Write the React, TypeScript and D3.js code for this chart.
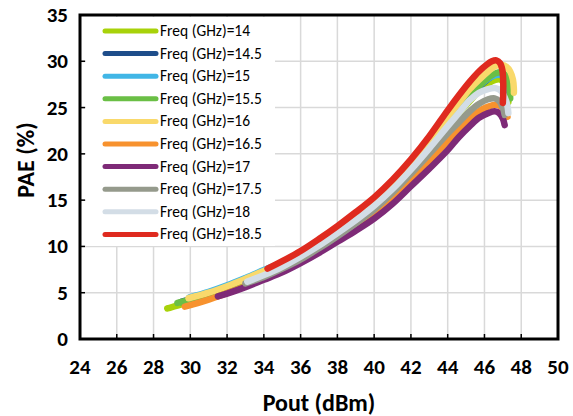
import React from 'react';
import * as d3 from 'd3';

const xTicks = [24, 26, 28, 30, 32, 34, 36, 38, 40, 42, 44, 46, 48, 50];
const yTicks = [0, 5, 10, 15, 20, 25, 30, 35];

const seriesNames = [
  'Freq (GHz)=14', 'Freq (GHz)=14.5', 'Freq (GHz)=15', 'Freq (GHz)=15.5', 'Freq (GHz)=16',
  'Freq (GHz)=16.5', 'Freq (GHz)=17', 'Freq (GHz)=17.5', 'Freq (GHz)=18', 'Freq (GHz)=18.5',
];
const seriesColors = [
  '#a8d20a', '#1e4d8a', '#41b6e6', '#6abf45', '#f9d96b',
  '#f7922e', '#7e2a77', '#959a8c', '#d3dde6', '#df2a1f',
];

// [Pout (dBm), PAE (%)]
const f14: [number, number][] = [
  [28.75, 3.3], [29, 3.45], [30, 4.0], [31, 4.65], [32, 5.35], [33, 6.1], [34, 6.95], [35, 7.85],
  [36, 8.85], [37, 10.0], [38, 11.4], [39, 12.8], [40, 14.4], [41, 16.2], [42, 18.3], [43, 20.6],
  [44, 23.0], [44.6, 24.4], [45.2, 25.7], [45.7, 26.8], [46.2, 27.6], [46.6, 28.0], [46.9, 28.0],
  [47.1, 27.4], [47.25, 26.5], [47.3, 25.6],
];
const f145: [number, number][] = [
  [29.5, 4.0], [30, 4.3], [31, 4.9], [32, 5.55], [33, 6.35], [34, 7.15], [35, 8.05], [36, 9.05],
  [37, 10.25], [38, 11.6], [39, 13.0], [40, 14.6], [41, 16.4], [42, 18.5], [43, 20.8], [44, 23.3],
  [44.6, 24.7], [45.2, 26.1], [45.7, 27.2], [46.2, 28.1], [46.6, 28.6], [46.9, 28.7], [47.15, 28.2],
  [47.3, 27.2], [47.35, 26.2],
];
const f15: [number, number][] = [
  [29.95, 4.5], [31, 5.1], [32, 5.8], [33, 6.6], [34, 7.45], [35, 8.3], [36, 9.3], [37, 10.5],
  [38, 11.8], [39, 13.2], [40, 14.8], [41, 16.6], [42, 18.7], [43, 21.0], [44, 23.5], [44.6, 24.9],
  [45.2, 26.3], [45.7, 27.3], [46.2, 28.1], [46.6, 28.5], [46.9, 28.5], [47.1, 28.0], [47.25, 27.0],
  [47.3, 26.0],
];
const f155: [number, number][] = [
  [29.3, 3.9], [30, 4.25], [31, 4.85], [32, 5.5], [33, 6.3], [34, 7.1], [35, 8.0], [36, 9.0],
  [37, 10.2], [38, 11.6], [39, 13.0], [40, 14.6], [41, 16.4], [42, 18.6], [43, 20.9], [44, 23.4],
  [44.6, 24.8], [45.2, 26.2], [45.7, 27.3], [46.2, 28.2], [46.6, 28.7], [46.95, 28.8], [47.2, 28.3],
  [47.35, 27.3], [47.4, 26.0],
];
const f16: [number, number][] = [
  [29.9, 4.4], [31, 5.0], [32, 5.7], [33, 6.5], [34, 7.35], [35, 8.2], [36, 9.3], [37, 10.6],
  [38, 11.95], [39, 13.4], [40, 15.0], [41, 16.85], [42, 19.0], [43, 21.4], [44, 24.0], [44.6, 25.5],
  [45.2, 27.0], [45.7, 28.0], [46.2, 28.9], [46.6, 29.5], [46.95, 29.6], [47.2, 29.4], [47.4, 28.9],
  [47.55, 28.0], [47.6, 27.0], [47.6, 26.6],
];
const f165: [number, number][] = [
  [29.7, 3.5], [30, 3.65], [31, 4.25], [32, 4.95], [33, 5.7], [34, 6.5], [35, 7.35], [36, 8.35],
  [37, 9.45], [38, 10.7], [39, 12.0], [40, 13.4], [41, 15.1], [42, 17.1], [43, 19.2], [44, 21.4],
  [44.6, 22.6], [45.2, 23.8], [45.7, 24.6], [46.2, 25.1], [46.6, 25.3], [46.9, 25.1], [47.1, 24.6],
  [47.25, 24.0],
];
const f17: [number, number][] = [
  [31.5, 4.6], [32, 4.9], [33, 5.6], [34, 6.4], [35, 7.2], [36, 8.2], [37, 9.3], [38, 10.5],
  [39, 11.7], [40, 13.0], [41, 14.6], [42, 16.5], [43, 18.4], [44, 20.4], [44.6, 21.8], [45.2, 23.0],
  [45.7, 23.9], [46.2, 24.4], [46.55, 24.6], [46.8, 24.4], [47.0, 23.8], [47.1, 23.1],
];
const f175: [number, number][] = [
  [33.0, 6.0], [34, 6.7], [35, 7.6], [36, 8.6], [37, 9.8], [38, 11.1], [39, 12.5], [40, 14.0],
  [41, 15.8], [42, 17.85], [43, 20.0], [44, 22.2], [44.6, 23.4], [45.2, 24.6], [45.7, 25.4],
  [46.2, 25.9], [46.55, 26.0], [46.8, 25.7], [47.0, 25.0], [47.1, 24.2],
];
const f18: [number, number][] = [
  [33.1, 6.2], [34, 6.9], [35, 7.8], [36, 8.9], [37, 10.1], [38, 11.45], [39, 12.85], [40, 14.4],
  [41, 16.2], [42, 18.3], [43, 20.6], [44, 23.0], [44.6, 24.4], [45.2, 25.8], [45.7, 26.6],
  [46.2, 27.0], [46.6, 27.1], [46.9, 26.8], [47.1, 26.1], [47.25, 25.2], [47.3, 24.4],
];
const f185: [number, number][] = [
  [34.2, 7.6], [35, 8.4], [36, 9.5], [37, 10.8], [38, 12.2], [39, 13.7], [40, 15.3], [41, 17.2],
  [42, 19.4], [43, 21.9], [44, 24.7], [44.6, 26.3], [45.2, 27.8], [45.7, 28.9], [46.1, 29.6],
  [46.4, 30.0], [46.65, 30.1], [46.85, 29.8], [46.98, 29.0], [47.02, 27.8], [47.02, 26.5], [47.0, 25.5],
];

const seriesData = [f14, f145, f15, f155, f16, f165, f17, f175, f18, f185];

const FONT = "Carlito, Calibri, 'Liberation Sans', Arial, sans-serif";

export default function App() {
  const W = 573;
  const H = 416;
  const left = 80, right = 558, top = 15, bottom = 339;
  const x = d3.scaleLinear().domain([24, 50]).range([left, right]);
  const y = d3.scaleLinear().domain([0, 35]).range([bottom, top]);
  const line = d3
    .line<[number, number]>()
    .x((d) => x(d[0]))
    .y((d) => y(d[1]))
    .curve(d3.curveCatmullRom.alpha(0.5));

  const legX0 = 105, legX1 = 156, legTextX = 160, legY0 = 31, legDy = 22.6;

  return (
    <svg
      width={W}
      height={H}
      style={{ position: 'absolute', left: 0, top: 0, background: '#fff' }}
      fontFamily={FONT}
    >
      <rect x={0} y={0} width={W} height={H} fill="#fff" />
      {/* gridlines */}
      {xTicks.map((t) => (
        <line key={'gx' + t} x1={x(t)} x2={x(t)} y1={top} y2={bottom} stroke="#d9d9d9" strokeWidth={1.5} />
      ))}
      {yTicks.map((t) => (
        <line key={'gy' + t} x1={left} x2={right} y1={y(t)} y2={y(t)} stroke="#d9d9d9" strokeWidth={1.5} />
      ))}
      {/* legend background */}
      <rect x={86} y={17} width={189} height={229} fill="#fff" />
      {/* series */}
      {seriesData.map((d, i) => (
        <path
          key={'s' + i}
          d={line(d) || ''}
          fill="none"
          stroke={seriesColors[i]}
          strokeWidth={6.5}
          strokeLinecap="round"
          strokeLinejoin="round"
        />
      ))}
      {/* frame */}
      <rect x={left} y={top} width={right - left} height={bottom - top} fill="none" stroke="#000" strokeWidth={3} />
      {/* ticks */}
      {xTicks.map((t) => (
        <line key={'tx' + t} x1={x(t)} x2={x(t)} y1={bottom} y2={bottom - 5} stroke="#000" strokeWidth={1.5} />
      ))}
      {yTicks.map((t) => (
        <line key={'ty' + t} x1={left} x2={left + 5} y1={y(t)} y2={y(t)} stroke="#000" strokeWidth={1.5} />
      ))}
      {/* tick labels */}
      {xTicks.map((t) => (
        <text key={'lx' + t} x={x(t)} y={374} textAnchor="middle" fontSize={21} fontWeight="bold" fill="#000">
          {t}
        </text>
      ))}
      {yTicks.map((t) => (
        <text key={'ly' + t} x={68} y={y(t) + 7} textAnchor="end" fontSize={21} fontWeight="bold" fill="#000">
          {t}
        </text>
      ))}
      {/* axis titles */}
      <text x={(left + right) / 2} y={411} textAnchor="middle" fontSize={24} fontWeight="bold" fill="#000">
        Pout (dBm)
      </text>
      <text
        transform={`translate(34, ${160}) rotate(-90)`}
        textAnchor="middle"
        fontSize={24}
        fontWeight="bold"
        fill="#000"
      >
        PAE (%)
      </text>
      {/* legend */}
      {seriesNames.map((n, i) => (
        <g key={'lg' + i}>
          <line
            x1={legX0}
            x2={legX1}
            y1={legY0 + i * legDy}
            y2={legY0 + i * legDy}
            stroke={seriesColors[i]}
            strokeWidth={5}
            strokeLinecap="round"
          />
          <text x={legTextX} y={legY0 + i * legDy + 5} fontSize={15.5} fill="#000">
            {n}
          </text>
        </g>
      ))}
    </svg>
  );
}
